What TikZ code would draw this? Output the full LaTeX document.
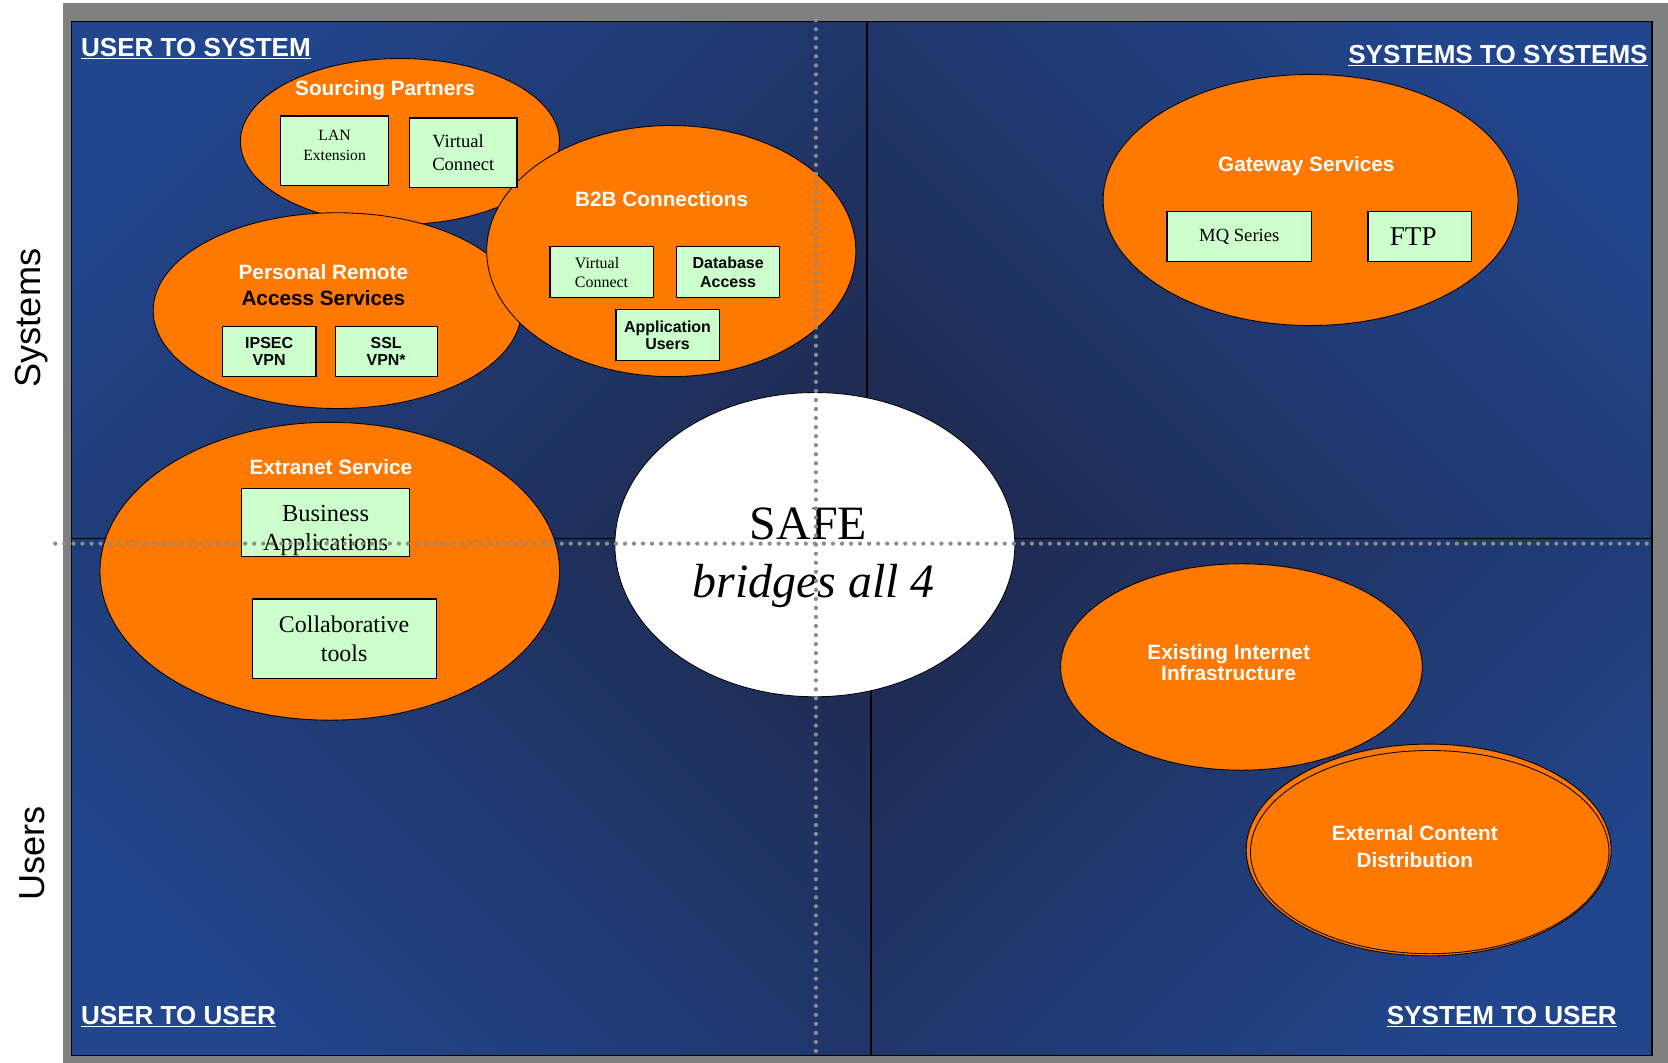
\documentclass[tikz,border=0pt]{standalone}
\usepackage{fontspec}
\setmainfont{Liberation Serif}
\setsansfont{Liberation Sans}
\usetikzlibrary{shapes.geometric}
\definecolor{FrameGray}{RGB}{128,128,128}
\definecolor{NavyLight}{RGB}{33,70,142}
\definecolor{NavyDark}{RGB}{31,45,86}
\definecolor{ZoneOrange}{RGB}{255,120,0}
\definecolor{BoxGreen}{RGB}{204,255,204}
\definecolor{DotGray}{RGB}{140,140,140}

\begin{document}
\begin{tikzpicture}[x=1pt,y=-1pt,
  zone/.style={ellipse,draw=black,fill=ZoneOrange,line width=.8pt,inner sep=0pt},
  svc/.style={draw=black,fill=BoxGreen,line width=1.1pt,inner sep=0pt,align=center},
  title/.style={text=white,font={\sffamily\bfseries\fontsize{19.5}{24}\selectfont},align=center,inner sep=0pt},
  corner/.style={text=white,font={\sffamily\bfseries\fontsize{24.5}{26}\selectfont},inner sep=0pt},
  sidelabel/.style={font={\sffamily\fontsize{34}{36}\selectfont},rotate=90,inner sep=0pt},
  dots/.style={DotGray,line width=4pt,line cap=round,dash pattern=on 0pt off 8.5pt}]
\def\serif#1#2{\rmfamily\fontsize{#1}{#2}\selectfont}
\def\sansb#1#2{\sffamily\bfseries\fontsize{#1}{#2}\selectfont}
\useasboundingbox (0,0) rectangle (1568,999);
% frame and the four quadrants
\fill[FrameGray] (59,3) rectangle (1568,999);
\shade[top color=NavyLight,bottom color=NavyDark,shading angle=45] (67,20) rectangle (815,506);
\shade[top color=NavyLight,bottom color=NavyDark,shading angle=-45] (815,20) rectangle (1553,506);
\shade[top color=NavyLight,bottom color=NavyDark,shading angle=135] (67,506) rectangle (819,992);
\shade[top color=NavyLight,bottom color=NavyDark,shading angle=-135] (819,506) rectangle (1553,992);
\draw[line width=1.4pt] (67,20) rectangle (815,506);
\draw[line width=1.4pt] (815,20) rectangle (1553,506);
\draw[line width=1.4pt] (67,506) rectangle (819,992);
\draw[line width=1.4pt] (819,506) rectangle (1553,992);

% service zones
\node[zone,minimum width=300pt,minimum height=156pt] (srcp) at (376,133) {};
\node[zone,minimum width=346pt,minimum height=184pt] (pras) at (317,292) {};
\node[zone,minimum width=347pt,minimum height=236pt] (b2b) at (631,236) {};
\node[zone,minimum width=432pt,minimum height=280pt] (extr) at (310,537) {};
\node[zone,minimum width=390pt,minimum height=236pt] (gway) at (1232,188) {};
\node[zone,minimum width=340pt,minimum height=194pt] (inet) at (1167,627) {};
\node[zone,minimum width=343pt,minimum height=199pt] (ecdback) at (1343,799) {};
\node[zone,minimum width=337pt,minimum height=191pt] (ecd) at (1344,801) {};
\node[zone,fill=white,minimum width=376pt,minimum height=286pt] (safe) at (766,512) {};

% boxes
\node[svc,minimum width=101pt,minimum height=65pt] (lan) at (314.5,141.5) {};
\node[align=center,inner sep=0pt,font={\serif{14.7}{19}}] (lanT) at (314.5,137) {LAN\\Extension};
\node[svc,minimum width=101pt,minimum height=65pt,align=left,font={\serif{17.5}{22}}] (vcsrc) at (435.5,143.5) {Virtual\\Connect};
\node[svc,minimum width=88pt,minimum height=47pt,font={\sansb{15}{16}}] (ipsec) at (253,330.5) {IPSEC\\VPN};
\node[svc,minimum width=96pt,minimum height=47pt,font={\sansb{15}{16}}] (ssl) at (363,330.5) {SSL\\VPN*};
\node[svc,minimum width=97pt,minimum height=48pt,align=left,font={\serif{15}{18}}] (vcb2b) at (565.5,256) {Virtual\\Connect};
\node[svc,minimum width=97pt,minimum height=48pt,font={\sansb{15}{17}}] (dbacc) at (684.5,256) {Database\\Access};
\node[svc,minimum width=97pt,minimum height=48pt,font={\sansb{15}{16}}] (appusr) at (627.5,315) {Application\\Users};
\node[svc,minimum width=158pt,minimum height=64pt] (bizapp) at (306,491) {};
\node[align=center,inner sep=0pt,font={\serif{23}{27}}] (bizappT) at (306,499) {Business\\Applications};
\node[svc,minimum width=173pt,minimum height=75pt,font={\serif{22.5}{27}}] (collab) at (323.5,600.5) {Collaborative\\tools};
\node[svc,minimum width=136pt,minimum height=47pt,font={\serif{17.5}{20}}] (mqs) at (1165,222.5) {MQ Series};
\node[svc,minimum width=97pt,minimum height=47pt,font={\serif{25.5}{28}}] (ftp) at (1334.5,222.5) {FTP\hspace{12pt}};

% zone titles
\node[title] (srcpT) at (362,85) {Sourcing Partners};
\node[title] (prasT) at (304,268) {Personal Remote\\\textcolor{black}{Access Services}};
\node[title] (b2bT) at (622,187) {B2B Connections};
\node[title] (extrT) at (311,439) {Extranet Service};
\node[title] (gwayT) at (1228,156) {Gateway Services};
\node[title,font={\sansb{19.5}{18}}] (inetT) at (1155,623) {Existing Internet\\Infrastructure};
\node[title,font={\sansb{19.5}{25}}] (ecdT) at (1330,796) {External Content\\Distribution};
\node[font={\serif{45}{50}},inner sep=0pt] (safeT) at (760,492) {SAFE};
\node[font={\serif{45}{50}\itshape},inner sep=0pt] (safeS) at (765,551) {bridges all 4};

% dotted cross
\coordinate (vtop) at (767,19);
\coordinate (vbot) at (767,992);
\coordinate (hleft) at (52,511);
\coordinate (hright) at (1552,511);
\draw[dots] (vtop) -- (vbot);
\draw[dots] (hleft) -- (hright);

% quadrant names and side labels
\node[corner,anchor=base west] (u2s) at (76,53) {\underline{USER TO SYSTEM}};
\node[corner,anchor=base east] (s2s) at (1549,60) {\underline{SYSTEMS TO SYSTEMS}};
\node[corner,anchor=base west] (u2u) at (76,963) {\underline{USER TO USER}};
\node[corner,anchor=base east] (s2u) at (1520,963) {\underline{SYSTEM TO USER}};
\node[sidelabel] (sysL) at (30,299) {Systems};
\node[sidelabel] (usrL) at (30,802) {Users};
\end{tikzpicture}
\end{document}
